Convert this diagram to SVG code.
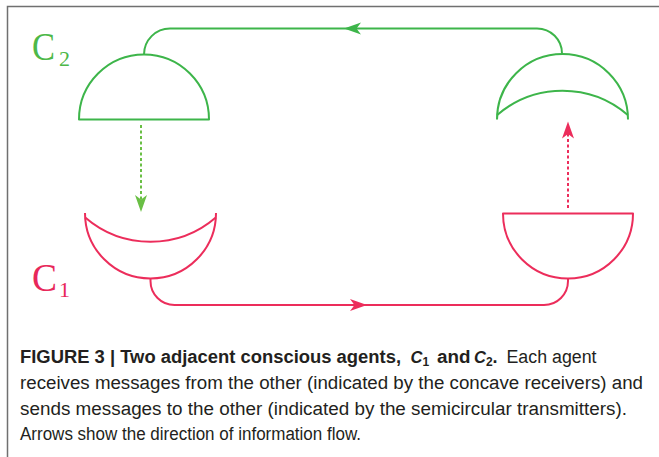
<svg xmlns="http://www.w3.org/2000/svg" xmlns:xlink="http://www.w3.org/1999/xlink" width="659" height="457" viewBox="0 0 659 457">
<style>
.g{stroke:#3db54a;}
.p{stroke:#ec2d5b;}
.sh{fill:#fff;stroke-width:2;stroke-linejoin:round;}
.ln{fill:none;stroke-width:2;}
.dot{fill:none;stroke-width:2;stroke-dasharray:3 2.5;}
.lab{font-family:"Liberation Serif",serif;}
.cap{font-family:"Liberation Sans",Arial,sans-serif;font-size:18px;fill:#231f20;}
.b{font-weight:bold;}
.bi{font-weight:bold;font-style:italic;font-size:16.5px;}
.sb{font-size:12px;font-style:normal;}
</style>
<defs>
<path id="ah" d="M0,0 L-17,-6 L-12.5,0 L-17,6 Z"/>
</defs>
<rect width="659" height="457" fill="#fff"/>
<path d="M7.5,457 V6.5 H659" fill="none" stroke="#707070" stroke-width="1.5"/>

<g id="connectors">
<path class="ln g" d="M144,54.5 A26,26 0 0 1 170,28.5 H537 A25,25 0 0 1 562,53.5"/>
<use xlink:href="#ah" fill="#3db54a" transform="translate(344,28.5) rotate(180)"/>
<path class="ln p" d="M150.5,278.5 V281 A24,24 0 0 0 174.5,305 H544 A24,24 0 0 0 568,281 V278.5"/>
<use xlink:href="#ah" fill="#ec2d5b" transform="translate(367,305)"/>
<path class="dot" stroke="#6abf45" d="M141,125 V200"/>
<use xlink:href="#ah" fill="#6abf45" transform="translate(141,212) rotate(90)"/>
<path class="dot" stroke="#ec2d5b" d="M568,208 V134"/>
<use xlink:href="#ah" fill="#ec2d5b" transform="translate(568,121.5) rotate(-90)"/>
</g>

<g id="c2-transmitter">
<path class="sh g" d="M79,119.5 A65,65 0 0 1 209,119.5 Z"/>
</g>
<g id="c2-receiver">
<path class="sh g" d="M497,119.5 A65.5,65.5 0 0 1 628,119.5"/>
<path class="ln g" d="M497.2,115 A100,100 0 0 1 627.8,115"/>
</g>
<g id="c1-receiver">
<path class="sh p" d="M85,213 A65.5,65.5 0 0 0 216,213"/>
<path class="ln p" d="M85.2,217.5 A100,100 0 0 0 215.8,217.5"/>
</g>
<g id="c1-transmitter">
<path class="sh p" d="M503,213.5 H633 A65,65 0 0 1 503,213.5 Z"/>
</g>

<g id="label-c2" class="lab" fill="#4db848">
<text x="32" y="59.5" font-size="40" textLength="23" lengthAdjust="spacingAndGlyphs">C</text>
<text x="59" y="65.5" font-size="22">2</text>
</g>
<g id="label-c1" class="lab" fill="#e8285a">
<text x="32" y="291" font-size="40" textLength="25" lengthAdjust="spacingAndGlyphs">C</text>
<text x="59" y="297" font-size="22">1</text>
</g>

<g id="caption">
<text class="cap b" x="20" y="363" textLength="381" lengthAdjust="spacingAndGlyphs">FIGURE 3 | Two adjacent conscious agents,</text>
<text class="cap bi" x="410.5" y="363">C<tspan class="sb" dy="3">1</tspan></text>
<text class="cap b" x="437" y="363" textLength="33.5" lengthAdjust="spacingAndGlyphs">and</text>
<text class="cap bi" x="474" y="363">C<tspan class="sb" dy="3">2</tspan><tspan dy="-3" font-style="normal" font-size="18px">.</tspan></text>
<text class="cap" x="506.5" y="363" textLength="90" lengthAdjust="spacingAndGlyphs">Each agent</text>
<text class="cap" x="20" y="389" textLength="623" lengthAdjust="spacingAndGlyphs">receives messages from the other (indicated by the concave receivers) and</text>
<text class="cap" x="20" y="414.5" textLength="607" lengthAdjust="spacingAndGlyphs">sends messages to the other (indicated by the semicircular transmitters).</text>
<text class="cap" x="20" y="440" textLength="341" lengthAdjust="spacingAndGlyphs">Arrows show the direction of information flow.</text>
</g>
</svg>
